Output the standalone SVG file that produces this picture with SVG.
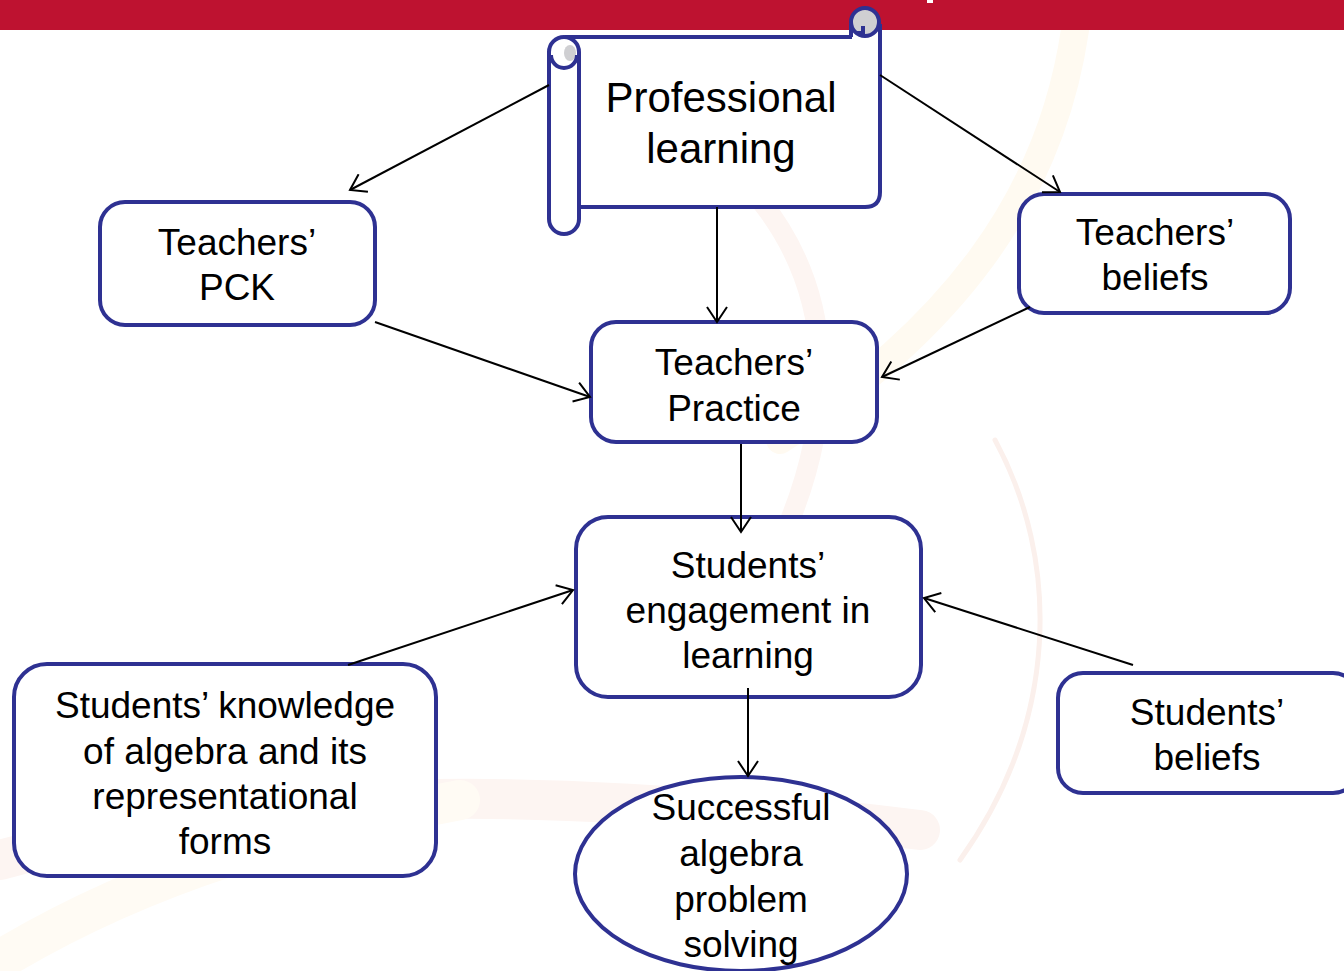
<svg xmlns="http://www.w3.org/2000/svg" width="1344" height="971" viewBox="0 0 1344 971">
  <defs>
    <style>
      .box { fill: #ffffff; stroke: #2E3192; stroke-width: 4; }
      .lbl { font-family: "Liberation Sans", Arial, sans-serif; font-size: 37px; fill: #000000; text-anchor: middle; }
      .big { font-size: 42px; }
      .conn { stroke: #000000; stroke-width: 2; fill: none; marker-end: url(#arrow); }
      .bg { fill: none; stroke-linecap: round; }
    </style>
    <marker id="arrow" markerUnits="userSpaceOnUse" markerWidth="18" markerHeight="22" viewBox="0 0 18 22" refX="16" refY="11" orient="auto">
      <path d="M1,1 L16,11 L1,21" fill="none" stroke="#000000" stroke-width="2"/>
    </marker>
  </defs>

  <rect x="0" y="0" width="1344" height="971" fill="#ffffff"/>

  <g id="background">
    <path class="bg" d="M1075,30 C1050,200 950,330 780,440" stroke="#FFFAF1" stroke-width="28"/>
    <path class="bg" d="M760,200 C840,300 830,420 790,520" stroke="#FDF5F2" stroke-width="20"/>
    <path class="bg" d="M995,440 C1060,560 1060,720 960,860" stroke="#FBF0EC" stroke-width="5"/>
    <path class="bg" d="M0,860 C250,790 500,780 920,830" stroke="#FDF5F2" stroke-width="40"/>
    <path class="bg" d="M0,960 C150,870 300,830 460,800" stroke="#FFFBF4" stroke-width="40"/>
  </g>

  <g id="header">
    <rect x="0" y="0" width="1344" height="30" fill="#BE1230"/>
    <rect x="927" y="0" width="6" height="3" fill="#ffffff"/>
  </g>

  <g id="node-professional-learning">
    <path d="M565,37 L866,37 L880,28 L880,192 Q880,207 865,207 L565,207 Z" fill="#ffffff"/>
    <path d="M565,37 H852 M880,24 V192 Q880,207 865,207 H579" fill="none" stroke="#2E3192" stroke-width="4"/>
    <circle cx="865" cy="22" r="14" fill="#CFCFD2" stroke="#2E3192" stroke-width="4"/>
    <path d="M851,24 V37 M856,33 H863 V26" fill="none" stroke="#2E3192" stroke-width="4"/>
    <rect x="549" y="37" width="30" height="197" rx="15" ry="15" class="box"/>
    <ellipse cx="570" cy="53" rx="6" ry="8" fill="#CFCFD2"/>
    <path d="M551,55 A13,13 0 0 0 577,55" fill="none" stroke="#2E3192" stroke-width="4"/>
    <text class="lbl big" x="721" y="112">Professional</text>
    <text class="lbl big" x="721" y="163">learning</text>
  </g>

  <g id="node-teachers-pck">
    <rect x="100" y="202" width="275" height="123" rx="25" ry="25" class="box"/>
    <text class="lbl" x="237" y="255">Teachers’</text>
    <text class="lbl" x="237" y="300">PCK</text>
  </g>

  <g id="node-teachers-beliefs">
    <rect x="1019" y="194" width="271" height="119" rx="25" ry="25" class="box"/>
    <text class="lbl" x="1155" y="245">Teachers’</text>
    <text class="lbl" x="1155" y="290">beliefs</text>
  </g>

  <g id="node-teachers-practice">
    <rect x="591" y="322" width="286" height="120" rx="25" ry="25" class="box"/>
    <text class="lbl" x="734" y="375">Teachers’</text>
    <text class="lbl" x="734" y="421">Practice</text>
  </g>

  <g id="node-students-engagement">
    <rect x="576" y="517" width="345" height="180" rx="32" ry="32" class="box"/>
    <text class="lbl" x="748" y="578">Students’</text>
    <text class="lbl" x="748" y="623">engagement in</text>
    <text class="lbl" x="748" y="668">learning</text>
  </g>

  <g id="node-students-knowledge">
    <rect x="14" y="664" width="422" height="212" rx="33" ry="33" class="box"/>
    <text class="lbl" x="225" y="718">Students’ knowledge</text>
    <text class="lbl" x="225" y="764">of algebra and its</text>
    <text class="lbl" x="225" y="809">representational</text>
    <text class="lbl" x="225" y="854">forms</text>
  </g>

  <g id="node-students-beliefs">
    <rect x="1058" y="673" width="300" height="120" rx="25" ry="25" class="box"/>
    <text class="lbl" x="1207" y="725">Students’</text>
    <text class="lbl" x="1207" y="770">beliefs</text>
  </g>

  <g id="node-successful">
    <ellipse cx="741" cy="874" rx="166" ry="97" class="box"/>
    <text class="lbl" x="741" y="820">Successful</text>
    <text class="lbl" x="741" y="866">algebra</text>
    <text class="lbl" x="741" y="912">problem</text>
    <text class="lbl" x="741" y="957">solving</text>
  </g>

  <g id="connectors">
    <line class="conn" x1="549" y1="85" x2="350" y2="190"/>
    <line class="conn" x1="880" y1="75" x2="1060" y2="192"/>
    <line class="conn" x1="717" y1="207" x2="717" y2="322"/>
    <line class="conn" x1="375" y1="322" x2="590" y2="397"/>
    <line class="conn" x1="1030" y1="307" x2="882" y2="377"/>
    <line class="conn" x1="741" y1="444" x2="741" y2="532"/>
    <line class="conn" x1="348" y1="665" x2="573" y2="590"/>
    <line class="conn" x1="1133" y1="665" x2="924" y2="598"/>
    <line class="conn" x1="748" y1="688" x2="748" y2="776"/>
  </g>
</svg>
